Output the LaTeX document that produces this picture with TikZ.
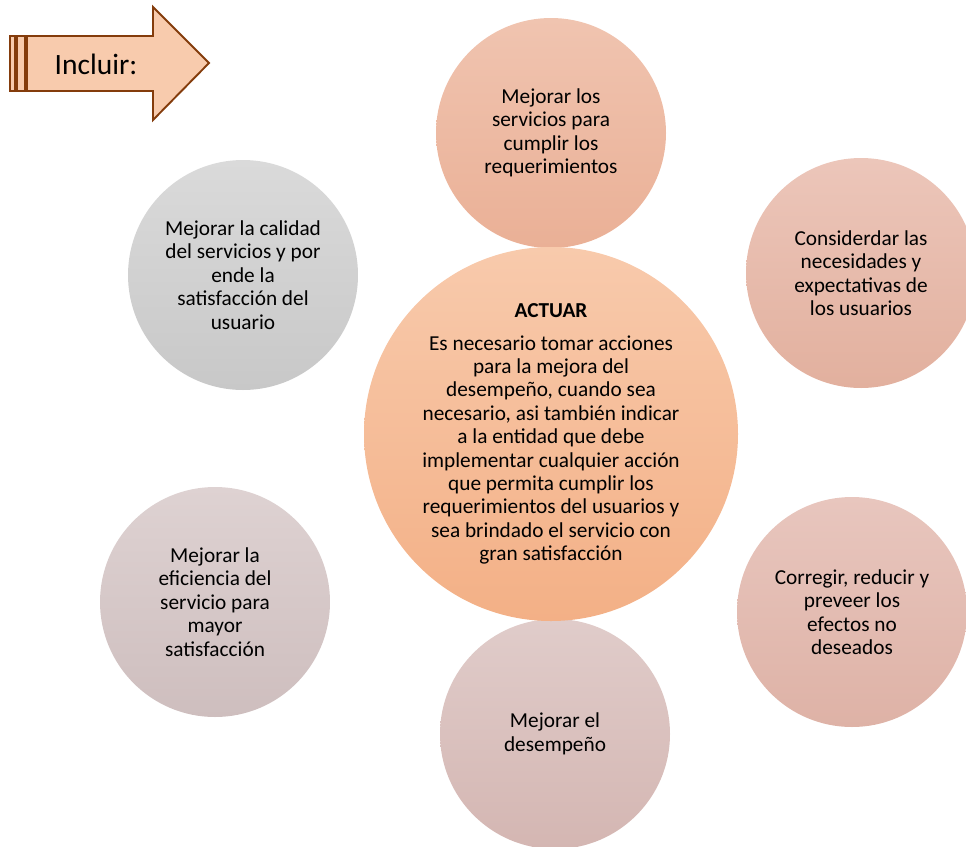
\documentclass[tikz,border=0pt]{standalone}
\usepackage{fontspec}
\setmainfont{Carlito}

\definecolor{flechaFondo}{RGB}{248,203,173}
\definecolor{flechaBorde}{RGB}{132,60,12}

\begin{document}
\begin{tikzpicture}[x=1pt, y=-1pt,
    burbuja/.style={circle, draw=none, minimum size=230pt, inner sep=0pt,
        align=center, font=\fontsize{21.3}{23.4}\selectfont},
    marco/.style={draw=flechaBorde, fill=flechaFondo, line width=1.9pt, line join=miter}]
    \useasboundingbox (0,0) rectangle (966,846);

    % Flecha "Incluir:"
    \filldraw[marco] (10,36) rectangle (15,91);
    \filldraw[marco] (17,36) rectangle (25,91);
    \filldraw[marco] (27,36) -- (153,36) -- (153,7) -- (209,63) -- (153,120) -- (153,91) -- (27,91) -- cycle;
    \node[font=\fontsize{29.5}{33}\selectfont] (incluir) at (96,64) {Incluir:};

    % Circulos alrededor
    \node[burbuja, top color={rgb,255:red,240;green,196;blue,176}, bottom color={rgb,255:red,234;green,176;blue,150}]
        (servicios) at (551,133) {Mejorar los\\servicios para\\cumplir los\\requerimientos};
    \node[burbuja, top color={rgb,255:red,236;green,198;blue,186}, bottom color={rgb,255:red,226;green,176;blue,158}]
        (necesidades) at (861,273) {Considerdar las\\necesidades y\\expectativas de\\los usuarios};
    \node[burbuja, top color={rgb,255:red,232;green,198;blue,190}, bottom color={rgb,255:red,222;green,178;blue,166}]
        (corregir) at (852,612) {Corregir, reducir y\\preveer los\\efectos no\\deseados};
    \node[burbuja, top color={rgb,255:red,224;green,204;blue,202}, bottom color={rgb,255:red,212;green,182;blue,178}]
        (desempeno) at (555,734) {Mejorar el\\desempeño};
    \node[burbuja, top color={rgb,255:red,222;green,210;blue,210}, bottom color={rgb,255:red,206;green,190;blue,190}]
        (eficiencia) at (215,602) {Mejorar la\\eficiencia del\\servicio para\\mayor\\satisfacción};
    \node[burbuja, top color={rgb,255:red,218;green,218;blue,218}, bottom color={rgb,255:red,200;green,200;blue,200}]
        (calidad) at (243,275) {Mejorar la calidad\\del servicios y por\\ende la\\satisfacción del\\usuario};

    % Circulo central
    \node[burbuja, minimum size=374pt, top color={rgb,255:red,248;green,202;blue,172}, bottom color={rgb,255:red,243;green,176;blue,134}]
        (actuar) at (551,434) {\textbf{ACTUAR}\\[9pt]Es necesario tomar acciones\\para la mejora del\\desempeño, cuando sea\\necesario, asi también indicar\\a la entidad que debe\\implementar cualquier acción\\que permita cumplir los\\requerimientos del usuarios y\\sea brindado el servicio con\\gran satisfacción};
\end{tikzpicture}
\end{document}
